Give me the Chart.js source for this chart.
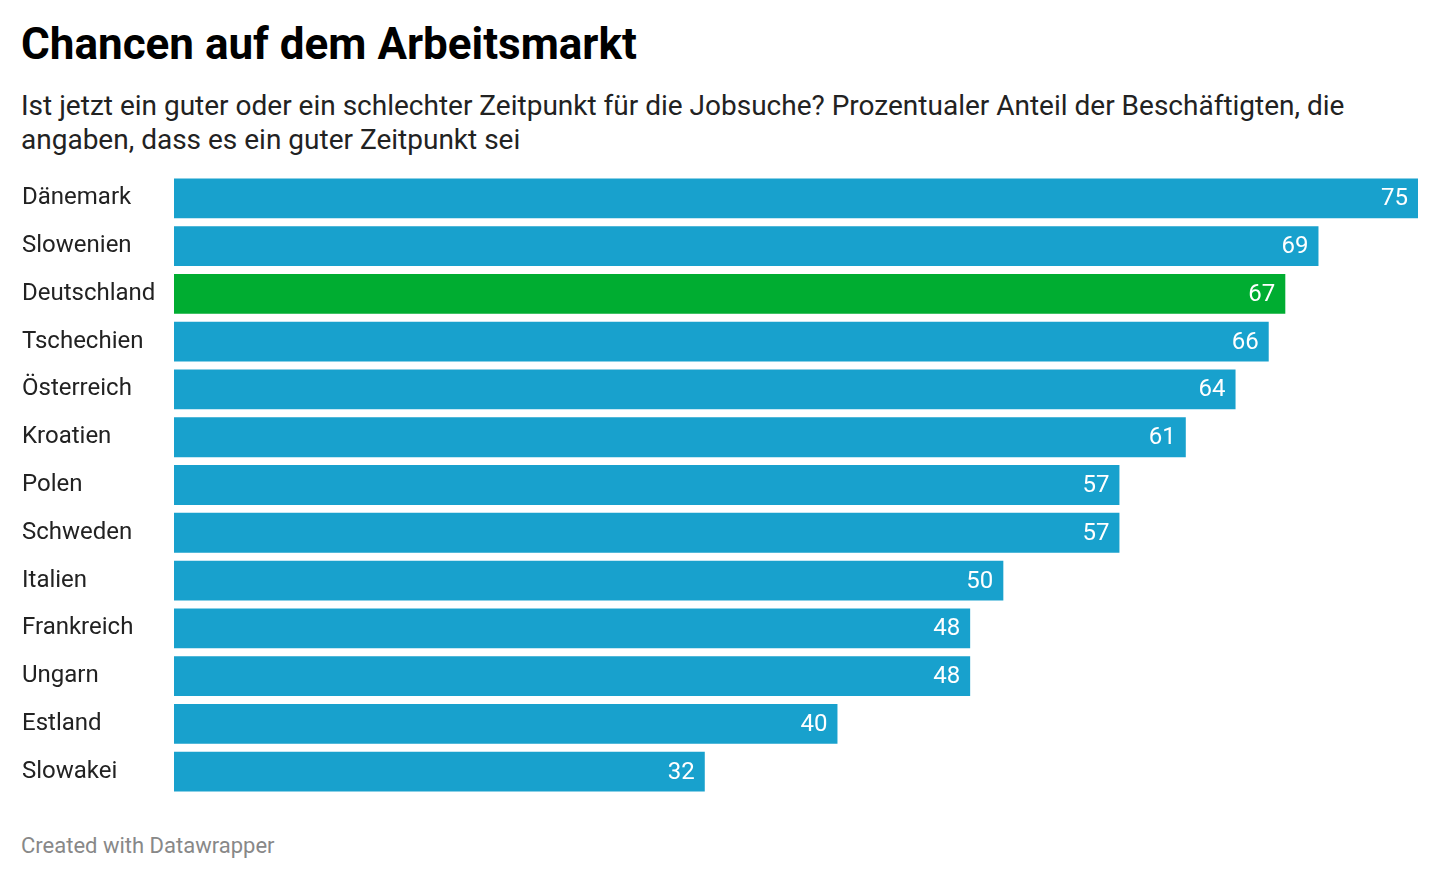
<!DOCTYPE html>
<html>
<head>
<meta charset="utf-8">
<script src="https://cdn.jsdelivr.net/npm/chart.js@4"></script>
<style>
  body { margin: 0; width: 1440px; height: 880px; background: #fff; font-family: Roboto, sans-serif; position: relative; overflow: hidden; }
  h1 { position: absolute; left: 21px; top: 18px; margin: 0; font-size: 44px; font-weight: 700; color: #000; }
  .sub { position: absolute; left: 21px; top: 89px; width: 1400px; margin: 0; font-size: 28px; line-height: 34px; color: #222; }
  .wrap { position: absolute; left: 0; top: 160px; width: 1440px; height: 650px; }
  .foot { position: absolute; left: 21px; top: 833px; font-size: 22px; color: #888; }
</style>
</head>
<body>
<h1>Chancen auf dem Arbeitsmarkt</h1>
<p class="sub">Ist jetzt ein guter oder ein schlechter Zeitpunkt für die Jobsuche? Prozentualer Anteil der Beschäftigten, die angaben, dass es ein guter Zeitpunkt sei</p>
<div class="wrap"><canvas id="c"></canvas></div>
<div class="foot">Created with Datawrapper</div>
<script>
// Daten
const countries = ['Dänemark', 'Slowenien', 'Deutschland', 'Tschechien', 'Österreich', 'Kroatien', 'Polen', 'Schweden', 'Italien', 'Frankreich', 'Ungarn', 'Estland', 'Slowakei'];
const values = [75, 69, 67, 66, 64, 61, 57, 57, 50, 48, 48, 40, 32];
const highlight = 'Deutschland';

// Werte in die Balken schreiben
const valueLabels = {
    id: 'valueLabels',
    afterDatasetsDraw(chart) {
        const ctx = chart.ctx;
        const meta = chart.getDatasetMeta(0);
        ctx.save();
        ctx.font = '24px Roboto';
        ctx.fillStyle = '#fff';
        ctx.textAlign = 'right';
        ctx.textBaseline = 'middle';
        meta.data.forEach((bar, i) => {
            ctx.fillText(values[i], bar.x - 10, bar.y + 1);
        });
        ctx.restore();
    }
};

new Chart(document.getElementById('c'), {
    type: 'bar',
    data: {
        labels: countries,
        datasets: [{
            data: values,
            backgroundColor: countries.map(c => c === highlight ? '#00ad31' : '#18a1cd'),
            barPercentage: 40 / 48,
            categoryPercentage: 1
        }]
    },
    options: {
        indexAxis: 'y',
        responsive: true,
        maintainAspectRatio: false,
        animation: false,
        layout: { padding: { left: 22, right: 22, top: 0, bottom: 0 } },
        plugins: { legend: { display: false }, tooltip: { enabled: false } },
        scales: {
            x: { min: 0, max: 75, display: false },
            y: {
                grid: { display: false },
                border: { display: false },
                afterFit(scale) { scale.width = 152; },
                ticks: {
                    crossAlign: 'far',
                    color: '#222',
                    font: { family: 'Roboto', size: 24 },
                    padding: 0
                }
            }
        }
    },
    plugins: [valueLabels]
});
</script>
</body>
</html>
